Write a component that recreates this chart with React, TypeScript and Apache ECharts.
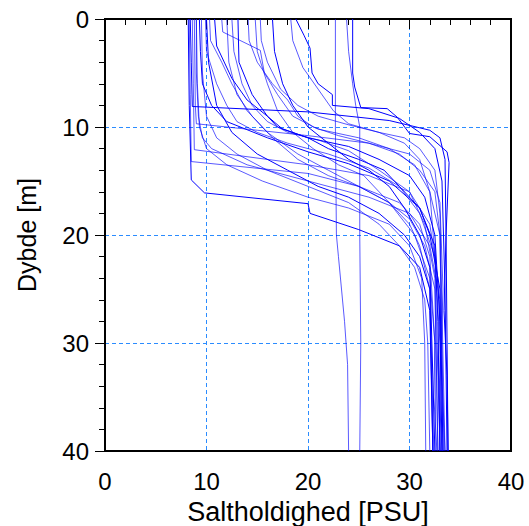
import React, { useEffect, useRef } from "react";
import * as echarts from "echarts";

// Salinity (PSU) vs depth (m) profiles: [salinity, depth]
const xTicks = [0, 10, 20, 30, 40];
const yTicks = [0, 10, 20, 30, 40];
const xTitle = "Saltholdighed [PSU]";
const yTitle = "Dybde [m]";

const p01 = [[8.4,0],[8.5,4],[8.6,8.1],[20,8.6],[28,9.4],[32,10.3],[33,11],[33.5,13],[33.6,20],[33.4,27],[33.7,33],[33.8,40]];
const p02 = [[8.6,0],[8.7,6],[8.8,12.1],[20,13.5],[26,14.5],[30,16],[32,19],[32.8,24],[33.1,30],[32.9,35],[33,40]];
const p03 = [[8.3,0],[8.4,7],[8.5,13.2],[20,14.3],[25,15.5],[29,17],[31,19],[32,22],[32.5,30],[32.4,35],[32.7,40]];
const p04 = [[8.2,0],[8.3,8],[8.5,14.9],[9.8,16.1],[20,17.1],[20.2,18],[25,19.5],[29,21],[31,23],[32,27],[32.3,40]];
const p05 = [[9,0],[9,5],[9.2,9],[9.6,11],[10.5,12],[14,13.5],[20,15],[26,16.5],[30,18],[32,21],[33,26],[32.8,32],[33.2,40]];
const p06 = [[8.8,0],[8.9,8],[9,9.7],[15,10.3],[20,10.8],[26,11.5],[30,12.5],[32,14],[33,17],[33.3,25],[33.1,31],[33.5,40]];
const p07 = [[9.3,0],[9.4,3],[9.6,6],[10.5,8],[12,9.5],[16,11],[20,12.3],[24,13.4],[28,15],[31,17.5],[32.5,21],[32.8,28],[33,40]];
const p08 = [[9.9,0],[10,3],[11,6],[12,8],[13,9.5],[15,10.5],[18,11.5],[22,12.5],[26,13.8],[29,15.5],[31,18],[32.5,22],[33,30],[33.1,40]];
const p09 = [[10.3,0],[10.4,2],[11.5,4],[12.5,6],[14,8.5],[16,10.5],[19,12.5],[22,14],[25,15.5],[28,17],[30.5,20],[32,24],[32.5,30],[32.6,40]];
const p10 = [[10.8,0],[11,2.5],[12.5,5.5],[14,7.5],[16,9],[17,10],[20,11],[24,11.8],[27,13],[30,14.5],[31.5,16.5],[32.5,20],[33,28],[33.2,40]];
const p11 = [[11.5,0],[11.6,1.2],[15.3,2.9],[15.7,5],[17,7],[18.5,9],[21,10.2],[25,11],[28,12],[30.5,13.5],[32,16],[33,20],[33.3,40]];
const p12 = [[12.5,0],[12.7,3],[13.5,6],[14.5,8],[16,9.5],[18,10.5],[21,11.2],[24,12.2],[27,14],[30,16],[31.5,19],[32.5,24],[32.8,40]];
const p13 = [[13.1,0],[13.2,4],[14.5,7],[16,9],[17.5,10.2],[20,11],[22,12],[25,13],[27.5,14],[29,15.5],[31,17.5],[32,20],[33,25],[33.3,40]];
const p14 = [[14.1,0],[14.2,2],[15,4],[16.5,6],[18,7.5],[19,9],[20.5,10],[23,10.8],[26,11.5],[29,12.5],[31,14],[32.5,16],[33,20],[33.4,40]];
const p15 = [[15.3,0],[15.4,2],[16,4],[17.3,6.5],[19,8],[21,9],[24,9.8],[27,10.5],[29.5,11],[31,12],[32.5,14],[33,18],[33.5,40]];
const p16 = [[18.8,0],[19.6,1.5],[20.2,2.7],[20.4,5],[21,6],[22.4,7],[22.4,8],[26,8.3],[29,9.2],[31,10.5],[32.5,12],[33.2,15],[33.5,25],[33.7,40]];
const p17 = [[18.3,0],[18.5,2],[19.5,4.5],[21,6.5],[22.5,8.5],[24,9.7],[27,10.5],[29.5,11.5],[31,13],[32,16],[32.5,22],[33,40]];
const p18 = [[22.7,0],[22.7,10],[22.8,20],[23,22],[23.3,25],[23.6,28],[23.9,32],[24,40]];
const p19 = [[24.4,0],[24.4,5],[24.6,6.3],[25.2,8.2],[27.8,8.3],[28.8,9.1],[30,10.6],[32,10.9],[33.7,12.3],[33.9,13.3],[33.6,20],[33.8,40]];
const p20 = [[23.8,0],[24,3],[24.4,6],[24.7,8],[25.1,10],[25.1,20],[25.2,30],[25.1,40]];
const p21 = [[9.5,0],[9.6,5],[10,9],[11,11],[13,12.5],[16,14],[20,15.5],[24,17],[27,19],[29,21],[30.5,23],[31.5,26],[31.8,30],[32,40]];
const p22 = [[10,0],[10.2,4],[11,8],[12.5,10.5],[15,12.5],[18,14],[21,15.5],[24,16.5],[27,18],[29.5,20],[31,22],[32,25],[32.3,40]];
const p23 = [[12,0],[12.2,4],[13,7],[14.5,9],[16.5,11],[19,13],[22,14.5],[25,15.5],[28,17],[30,18.5],[31.5,21],[32.5,25],[32.8,40]];
const p24 = [[9,0],[9.1,6],[9.3,10],[10,12],[12,13.5],[15.5,15],[20,16.5],[24,17.5],[28,19],[30,21],[31.2,24],[31.5,30],[31.6,40]];
const p25 = [[16.5,0],[16.7,3],[17.5,6],[18.5,8],[20,10],[22,11.5],[24,13],[26,14],[28,15.5],[29.5,17.5],[31,20],[32,23],[32.5,40]];
const p26 = [[14.8,0],[15,3],[16,6],[17,8.5],[18.5,10.5],[20.5,12],[23,13.5],[25.5,14.5],[27,16],[28.5,17.5],[30,19],[31,21],[32,25],[32.4,40]];

const profiles = [p01,p02,p03,p04,p05,p06,p07,p08,p09,p10,p11,p12,p13,p14,p15,p16,p17,p18,p19,p20,p21,p22,p23,p24,p25,p26];

export default function App() {
  const ref = useRef<HTMLDivElement>(null);
  useEffect(() => {
    document.body.style.margin = "0";
    const chart = echarts.init(ref.current!, null, { renderer: "svg" });
    const font = "'Liberation Sans', Arial, sans-serif";
    const gridColor = "#2b8cff";
    const axisCommon = {
      type: "value" as const,
      interval: 10,
      axisLine: { show: true, lineStyle: { color: "#000", width: 2 } },
      axisTick: { show: true, length: 10, inside: false, lineStyle: { color: "#000", width: 1 } },
      minorTick: { show: true, splitNumber: 5, length: 6, lineStyle: { color: "#000", width: 1 } },
      splitLine: {
        show: true,
        showMinLine: false,
        showMaxLine: false,
        lineStyle: { color: gridColor, width: 1, type: [4, 3] },
      },
      nameLocation: "middle" as const,
    };
    chart.setOption({
      animation: false,
      backgroundColor: "#fff",
      grid: {
        left: 105,
        top: 19,
        width: 406,
        height: 432,
        show: true,
        borderColor: "#000",
        borderWidth: 2,
        backgroundColor: "transparent",
        containLabel: false,
        outerBoundsMode: "none",
      },
      xAxis: {
        ...axisCommon,
        min: xTicks[0],
        max: xTicks[xTicks.length - 1],
        position: "bottom",
        name: xTitle,
        nameGap: 47,
        nameTextStyle: { fontFamily: font, fontSize: 27, color: "#000" },
        axisLabel: { fontFamily: font, fontSize: 24, color: "#000", margin: 18 },
      },
      yAxis: {
        ...axisCommon,
        min: yTicks[0],
        max: yTicks[yTicks.length - 1],
        inverse: true,
        name: yTitle,
        nameGap: 66,
        nameTextStyle: { fontFamily: font, fontSize: 25, color: "#000" },
        axisLabel: { fontFamily: font, fontSize: 24, color: "#000", margin: 16 },
      },
      series: profiles.map((p, i) => ({
        type: "line",
        data: p,
        showSymbol: false,
        symbol: "none",
        silent: true,
        lineStyle: { color: "#0000ff", width: 1, opacity: i % 3 === 0 ? 1 : 0.65 },
      })),
    });
    return () => chart.dispose();
  }, []);
  return <div ref={ref} style={{ width: 529, height: 526 }} />;
}
